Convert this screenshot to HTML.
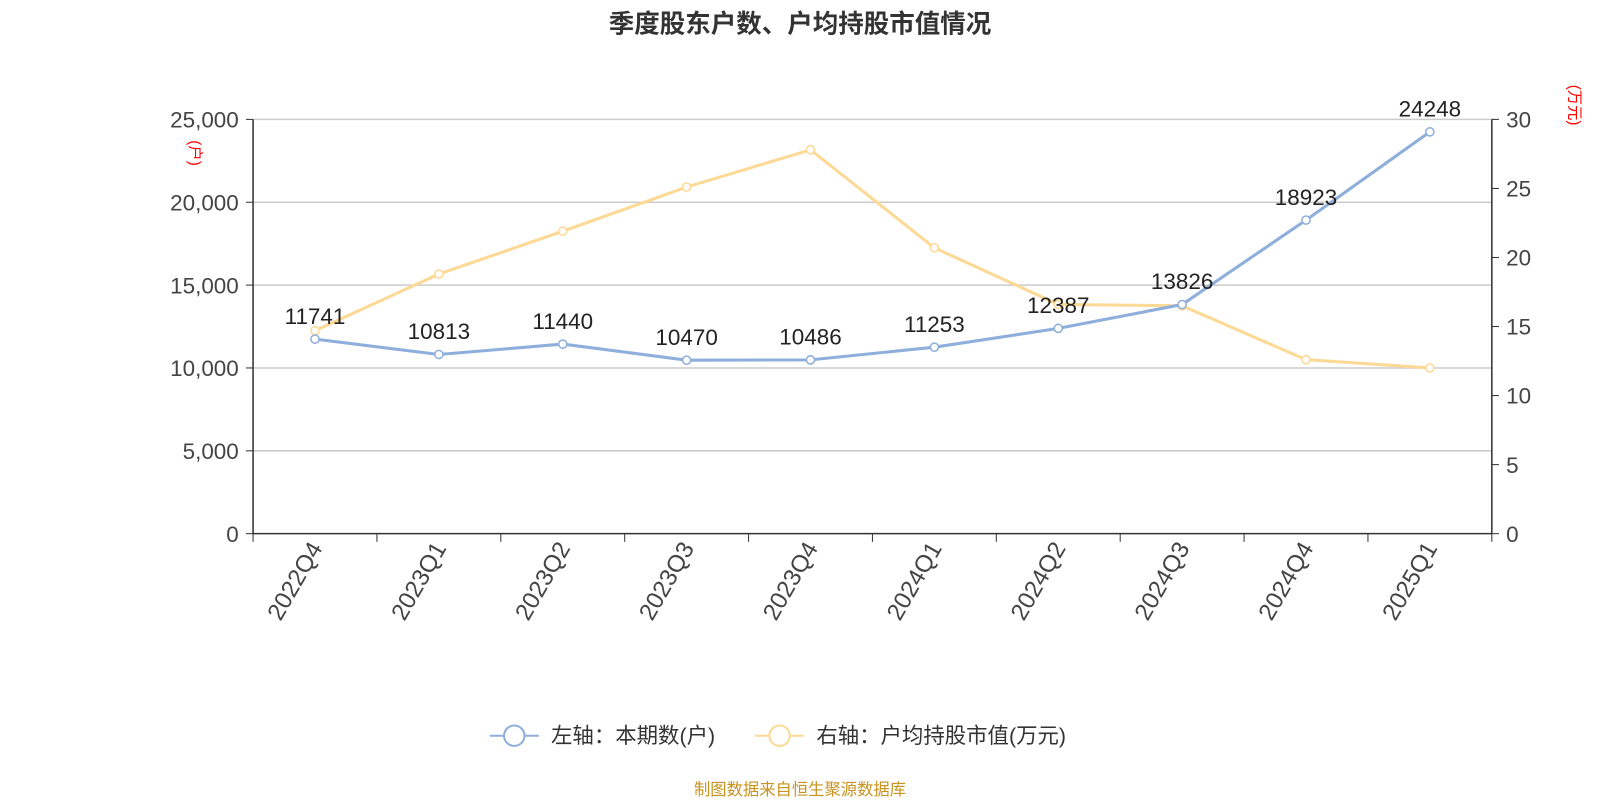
<!DOCTYPE html>
<html><head><meta charset="utf-8"><style>
body{margin:0;background:#fff;width:1600px;height:800px;overflow:hidden;font-family:"Liberation Sans","Noto Sans CJK SC",sans-serif}
</style></head><body>
<svg width="1600" height="800" font-family="Liberation Sans, Noto Sans CJK SC, sans-serif"><g id="c" transform="scale(1.0204)"></g></svg>
<script>
const categories=["2022Q4","2023Q1","2023Q2","2023Q3","2023Q4","2024Q1","2024Q2","2024Q3","2024Q4","2025Q1"];
const holders=[11741,10813,11440,10470,10486,11253,12387,13826,18923,24248];
const avgValue=[14.7,18.8,21.9,25.1,27.8,20.7,16.6,16.5,12.6,12.0];
const leftTicks=[0,5000,10000,15000,20000,25000];
const rightTicks=[0,5,10,15,20,25,30];
const svg=document.getElementById('c');const NS='http://www.w3.org/2000/svg';
function mk(t,a,p,txt){const e=document.createElementNS(NS,t);for(const k in a)e.setAttribute(k,a[k]);if(txt!==undefined)e.textContent=txt;(p||svg).appendChild(e);return e;}
const L=248,R=1462,T=117,B=523;
const bw=(R-L)/categories.length;
const xs=i=>L+bw*(i+0.5);
const yl=v=>B-(v/25000)*(B-T);
const yr=v=>B-(v/30)*(B-T);
let e;
e=mk('text',{x:784,y:32,'text-anchor':'middle','font-size':25,'font-weight':'bold',fill:'#333'},null,'季度股东户数、户均持股市值情况');

leftTicks.forEach(v=>{
 if(v>0){e=mk('line',{x1:L,x2:R,y1:yl(v),y2:yl(v),stroke:'#ccc','stroke-width':1.5});}
 mk('line',{x1:L-7,x2:L,y1:yl(v),y2:yl(v),stroke:'#333'});
 e=mk('text',{x:L-14,y:yl(v)+8,'text-anchor':'end','font-size':22,fill:'#444'},null,v.toLocaleString('en-US'));
 
});
rightTicks.forEach(v=>{
 mk('line',{x1:R,x2:R+7,y1:yr(v),y2:yr(v),stroke:'#333'});
 e=mk('text',{x:R+14,y:yr(v)+8,'font-size':22,fill:'#444'},null,String(v));
 
});
mk('line',{x1:L,x2:L,y1:T,y2:B,stroke:'#333','stroke-width':1.5});
mk('line',{x1:R,x2:R,y1:T,y2:B,stroke:'#333','stroke-width':1.5});
mk('line',{x1:L,x2:R,y1:B,y2:B,stroke:'#333','stroke-width':1.5});
for(let i=0;i<=categories.length;i++)mk('line',{x1:L+bw*i,x2:L+bw*i,y1:B,y2:B+8,stroke:'#333'});
categories.forEach((c,i)=>{
 const x=xs(i)+8,y=B+14;
 e=mk('text',{x:x,y:y,'text-anchor':'end','font-size':23.5,fill:'#444',transform:`rotate(-60 ${x} ${y})`},null,c);
 
});
e=mk('text',{x:186,y:150,'font-size':15,fill:'red','text-anchor':'middle',transform:'rotate(90 186 150)'},null,'(户)');

e=mk('text',{x:1538,y:103,'font-size':15,fill:'red','text-anchor':'middle',transform:'rotate(90 1538 103)'},null,'(万元)');

function series(vals,yf,color,name,labels){
 e=mk('polyline',{points:vals.map((v,i)=>xs(i)+','+yf(v)).join(' '),fill:'none',stroke:color,'stroke-width':3});
 
 vals.forEach((v,i)=>{
  e=mk('circle',{cx:xs(i),cy:yf(v),r:4,fill:'#fff',stroke:color,'stroke-width':1.5});
  
  if(labels){e=mk('text',{x:xs(i),y:yf(v)-15,'text-anchor':'middle','font-size':22,fill:'#222'},null,String(v));
  }
 });
}
series(avgValue,yr,'#fdd996','avg-value',false);
series(holders,yl,'#8eaedb','holders',true);
e=mk('g',{});
mk('line',{x1:480,x2:528,y1:721,y2:721,stroke:'#8eaedb','stroke-width':2},e);
mk('circle',{cx:504,cy:721,r:10,fill:'#fff',stroke:'#8eaedb','stroke-width':2},e);
mk('text',{x:540,y:728,'font-size':21,fill:'#333'},e,'左轴：本期数(户)');
e=mk('g',{});
mk('line',{x1:740,x2:788,y1:721,y2:721,stroke:'#fdd996','stroke-width':2},e);
mk('circle',{cx:764,cy:721,r:10,fill:'#fff',stroke:'#fdd996','stroke-width':2},e);
mk('text',{x:800,y:728,'font-size':21,fill:'#333'},e,'右轴：户均持股市值(万元)');
e=mk('text',{x:784,y:779,'text-anchor':'middle','font-size':16,fill:'#c8931e'},null,'制图数据来自恒生聚源数据库');

</script>
</body></html>
